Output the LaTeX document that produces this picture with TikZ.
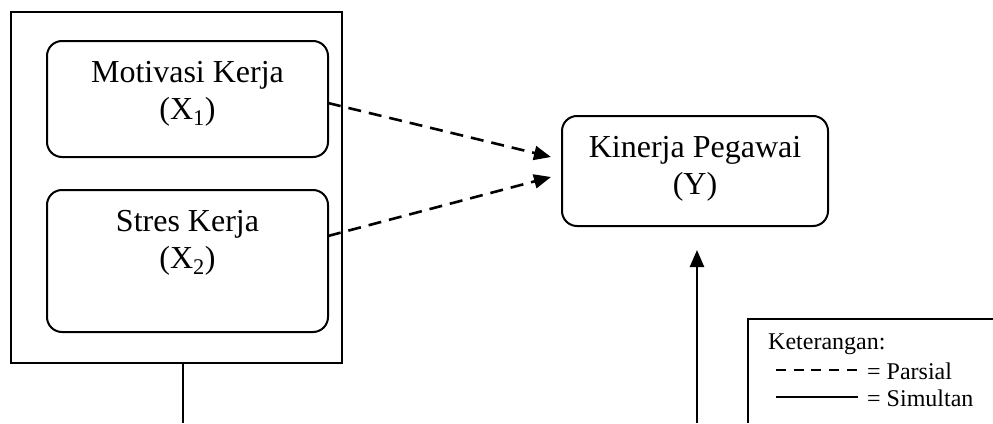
\documentclass[tikz,border=0pt]{standalone}
\usepackage{fontspec}
\setmainfont{Liberation Serif}
\usetikzlibrary{arrows.meta}
\tikzset{
  rbox/.style={draw, line width=2pt, rounded corners=15pt, inner sep=0pt},
  big/.style={font=\fontsize{32}{37}\selectfont, align=center, inner sep=0pt},
  small/.style={font=\fontsize{24}{27}\selectfont, inner sep=0pt},
  parsial/.style={line width=2.6pt, dash pattern=on 13pt off 8pt},
  tip/.style={-{Triangle[length=17pt,width=14pt]}},
}
\begin{document}
\begin{tikzpicture}[x=1pt,y=-1pt]
\useasboundingbox (0,0) rectangle (993,423);
% outer frame
\node[draw, line width=2pt, minimum width=331pt, minimum height=351pt, inner sep=0pt] (frame) at (176.5,187.5) {};
% X1
\node[rbox, minimum width=281pt, minimum height=116pt] (x1) at (187.5,99) {};
\node[big] (x1t) at (187.5,94) {Motivasi Kerja\\(X\textsubscript{1})};
% X2
\node[rbox, minimum width=281pt, minimum height=142pt] (x2) at (187.5,261) {};
\node[big] (x2t) at (187.5,243) {Stres Kerja\\(X\textsubscript{2})};
% Y
\node[rbox, minimum width=266pt, minimum height=110pt] (y) at (695,171) {};
\node[big] (yt) at (695,169) {Kinerja Pegawai\\(Y)};
% dashed arrows
\coordinate (a1s) at (328,103);
\coordinate (a1e) at (551,157);
\coordinate (a2s) at (328,236);
\coordinate (a2e) at (551,177);
\draw[parsial, tip] (a1s) -- (a1e);
\draw[parsial, tip] (a2s) -- (a2e);
% simultan lines
\coordinate (fbot) at (183,423);
\draw[line width=2pt] (frame.south -| fbot) -- (fbot);
\coordinate (ys) at (697,423);
\coordinate (ye) at (697,250);
\draw[line width=2.4pt, tip] (ys) -- (ye);
% legend
\coordinate (lg) at (748,319);
\coordinate (lgr) at (993,319);
\coordinate (lgb) at (748,423);
\draw[line width=2pt] (lgr) -- (lg) -- (lgb);
\node[small, anchor=west] (ket) at (768,344) {Keterangan:};
\coordinate (d1) at (776,370);
\coordinate (d2) at (858,370);
\draw[line width=2.6pt, dash pattern=on 10pt off 7.7pt] (d1) -- (d2);
\node[small, anchor=west] (par) at (867,371) {= Parsial};
\coordinate (s1) at (776,397);
\coordinate (s2) at (858,397);
\draw[line width=2.6pt] (s1) -- (s2);
\node[small, anchor=west] (sim) at (867,398) {= Simultan};
\end{tikzpicture}
\end{document}
